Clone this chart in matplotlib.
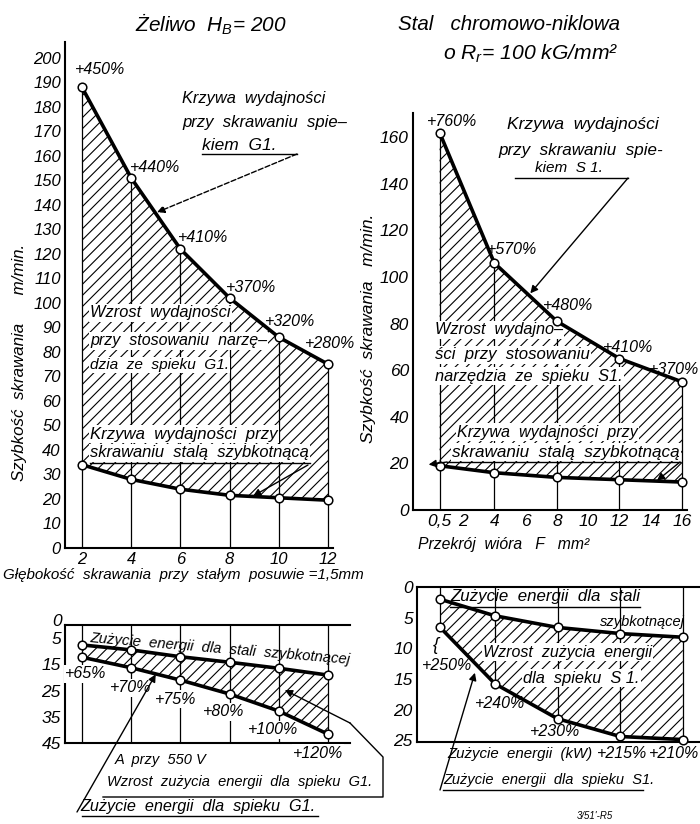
import matplotlib
matplotlib.use('Agg')
import matplotlib.pyplot as plt
from matplotlib.lines import Line2D

W, H = 700, 824  # output size in pixels (dpi 100)

# --- Żeliwo HB=200: cutting speed vs depth of cut (m/min)
depth = [2, 4, 6, 8, 10, 12]
v_g1 = [188, 151, 122, 102, 86, 75]
v_hss_cast = [34, 28, 24, 21.5, 20.5, 19.5]
gain_g1 = ['+450%', '+440%', '+410%', '+370%', '+320%', '+280%']

# --- Stal chromowo-niklowa: cutting speed vs chip section (m/min)
section = [0.5, 4, 8, 12, 16]
v_s1 = [162, 106, 81, 65, 55]
v_hss_steel = [19, 16, 14, 13, 12]
gain_s1 = ['+760%', '+570%', '+480%', '+410%', '+370%']

# --- energy, cast iron (A at 550 V)
e_hss_cast = [7.6, 9.5, 12.1, 14.2, 16.5, 19.1]
e_g1 = [12.3, 16.3, 21.0, 26.3, 32.8, 41.6]
e_gain_g1 = ['+65%', '+70%', '+75%', '+80%', '+100%', '+120%']

# --- energy, steel (kW)
e_hss_steel = [2.0, 4.7, 6.6, 7.6, 8.2]
e_s1 = [6.6, 15.8, 21.5, 24.4, 24.9]
e_gain_s1 = ['+250%', '+240%', '+230%', '+215%', '+210%']

yt_tl = list(range(0, 201, 10))
xt_tl = [2, 4, 6, 8, 10, 12]
yt_tr = list(range(0, 161, 20))
xt_tr = [0.5, 2, 4, 6, 8, 10, 12, 14, 16]
xt_tr_lab = ['0,5', '2', '4', '6', '8', '10', '12', '14', '16']
yt_bl = [5, 15, 25, 35, 45]
yt_br = [0, 5, 10, 15, 20, 25]

plt.rcParams['font.family'] = ['Liberation Sans', 'DejaVu Sans']
plt.rcParams['font.style'] = 'italic'
plt.rcParams['mathtext.fontset'] = 'custom'
plt.rcParams['mathtext.it'] = 'Liberation Sans:italic'
plt.rcParams['mathtext.rm'] = 'Liberation Sans:italic'
plt.rcParams['hatch.linewidth'] = 0.8
plt.rcParams['hatch.color'] = 'black'

fig = plt.figure(figsize=(W / 100, H / 100), dpi=100)
fig.patch.set_facecolor('white')
renderer = fig.canvas.get_renderer()


def P(x, y):
    # pixel (from top-left) -> figure fraction
    return x / W, 1 - y / H


def axes_px(left, top, right, bottom):
    return fig.add_axes([left / W, 1 - bottom / H, (right - left) / W, (bottom - top) / H])


def txt(x, y, s, width=None, size=11.5, ha='left', box=False, rot=0, ax=None, lo=10.5, hi=12.5):
    kw = {}
    if box:
        kw['bbox'] = dict(fc='white', ec='none', pad=0.8)
    host = ax if ax is not None else fig
    t = host.text(*P(x, y), s, ha=ha, va='center', fontsize=size, zorder=5,
                  transform=fig.transFigure, rotation_mode='anchor', clip_on=False, **kw)
    if width:
        w = t.get_window_extent(renderer).width
        t.set_fontsize(min(hi, max(lo, size * width / w)))
    t.set_rotation(rot)
    return t


def pline(pts, lw=1.0, ls='-'):
    xs = [p[0] / W for p in pts]
    ys = [1 - p[1] / H for p in pts]
    fig.add_artist(Line2D(xs, ys, color='k', lw=lw, ls=ls, transform=fig.transFigure, zorder=6))


def arrow(ax, target, start, ls='-'):
    ax.annotate('', xy=target, xycoords='data', xytext=P(*start), textcoords='figure fraction',
                arrowprops=dict(arrowstyle='-|>', color='k', lw=1.0, ls=ls, mutation_scale=11,
                                shrinkA=0, shrinkB=0), zorder=7)


def style(ax, spines, lsize=12):
    for k, s in ax.spines.items():
        s.set_visible(k in spines)
        s.set_linewidth(1.5)
    ax.tick_params(length=0, labelsize=lsize, pad=3)
    ax.set_facecolor('none')


def curve(ax, x, y):
    ax.plot(x, y, color='k', lw=2.6, marker='o', ms=6.2, mfc='white', mec='k', mew=1.1, zorder=6,
            clip_on=False)


# ---------------- top left
ax1 = axes_px(65, 42, 333, 548)
style(ax1, ['left', 'bottom'])
ax1.set_xlim(1.31, 12.2)
ax1.set_ylim(0, 206.5)
ax1.set_yticks(yt_tl)
ax1.set_xticks(xt_tl)
ax1.fill_between(depth, v_hss_cast, v_g1, facecolor='none', edgecolor='k', hatch='///', lw=0)
ax1.vlines(depth, 0, v_g1, color='k', lw=0.9)
curve(ax1, depth, v_g1)
curve(ax1, depth, v_hss_cast)

# ---------------- top right
ax2 = axes_px(413, 113, 687, 510)
style(ax2, ['left', 'bottom'], 12.5)
ax2.set_xlim(-1.2, 16.32)
ax2.set_ylim(0, 170.4)
ax2.set_yticks(yt_tr)
ax2.set_xticks(xt_tr, xt_tr_lab)
ax2.fill_between(section, v_hss_steel, v_s1, facecolor='none', edgecolor='k', hatch='///', lw=0)
ax2.vlines(section, 0, v_s1, color='k', lw=0.9)
curve(ax2, section, v_s1)
curve(ax2, section, v_hss_steel)

# ---------------- bottom left
ax3 = axes_px(65, 625, 350, 743)
style(ax3, ['left', 'bottom', 'top'], 12.5)
ax3.set_xlim(1.31, 12.9)
ax3.set_ylim(45, 0)
ax3.set_yticks(yt_bl)
ax3.set_xticks([])
ax3.fill_between(depth, e_hss_cast, e_g1, facecolor='none', edgecolor='k', hatch='///', lw=0)
ax3.vlines(depth, 0, 45, color='k', lw=0.9)
curve(ax3, depth, e_hss_cast)
curve(ax3, depth, e_g1)

# ---------------- bottom right
ax4 = axes_px(417, 587, 700, 742)
style(ax4, ['left', 'bottom', 'top'], 12.5)
ax4.set_xlim(-0.98, 17.1)
ax4.set_ylim(25.3, 0)
ax4.set_yticks(yt_br)
ax4.set_xticks([])
ax4.fill_between(section, e_hss_steel, e_s1, facecolor='none', edgecolor='k', hatch='///', lw=0)
ax4.vlines(section, 0, e_s1, color='k', lw=0.9)
curve(ax4, section, e_hss_steel)
curve(ax4, section, e_s1)

# ---------------- titles and axis labels
txt(211, 24, 'Żeliwo  $H_B$= 200', width=152, ha='center', hi=20)
txt(509, 24, 'Stal   chromowo-niklowa', width=222, ha='center', hi=20)
txt(531, 54, 'o $R_r$= 100 kG/mm²', width=177, ha='center', hi=20)
txt(20, 362, 'Szybkość  skrawania      m/min.', width=237, ha='center', rot=90, hi=16)
txt(369, 328, 'Szybkość  skrawania   m/min.', width=230, ha='center', rot=90, hi=16)
txt(3, 575, 'Głębokość  skrawania  przy  stałym  posuwie =1,5mm', width=362)
txt(418, 545, 'Przekrój  wióra   F   mm²', width=172)
txt(57, 622, '0', size=12.5, ha='center')

# ---------------- top left annotations
for s, (x, y) in zip(gain_g1, [(75, 70), (130, 167), (178, 238), (226, 287), (265, 322), (305, 343)]):
    txt(x, y, s)
txt(182, 98, 'Krzywa  wydajności', width=143)
txt(182, 123, 'przy  skrawaniu  spie–', width=165)
txt(202, 146, 'kiem  G1.', width=80)
pline([(202, 154), (297, 154)])
arrow(ax1, (5.05, 137), (297, 154), ls='--')
txt(90, 313, 'Wzrost  wydajności', width=140, box=True, ax=ax1)
txt(90, 341, 'przy  stosowaniu  narzę–', width=177, box=True, ax=ax1)
txt(90, 365, 'dzia  ze  spieku  G1.', width=140, box=True, ax=ax1)
txt(90, 434, 'Krzywa  wydajności  przy', width=187, box=True, ax=ax1)
txt(90, 453, 'skrawaniu  stalą  szybkotnącą', width=220, box=True, ax=ax1)
pline([(90, 463), (310, 463)])
arrow(ax1, (8.95, 21.2), (308, 465))

# ---------------- top right annotations
for s, (x, y) in zip(gain_s1[:4], [(427, 121), (487, 249), (543, 305), (603, 347)]):
    txt(x, y, s)
txt(699, 369, gain_s1[4], ha='right')
txt(507, 125, 'Krzywa  wydajności', width=156)
txt(498, 150, 'przy  skrawaniu  spie-', width=165)
txt(535, 168, 'kiem  S 1.', width=68)
pline([(515, 178), (628, 178)])
arrow(ax2, (6.3, 93), (628, 178))
txt(435, 330, 'Wzrost  wydajno–', width=128, box=True, ax=ax2)
txt(435, 355, 'ści  przy  stosowaniu', width=155, box=True, ax=ax2)
txt(435, 376, 'narzędzia  ze  spieku  S1.', width=188, box=True, ax=ax2)
txt(457, 432, 'Krzywa  wydajności  przy', width=180, box=True, ax=ax2)
txt(452, 452, 'skrawaniu  stalą  szybkotnącą', width=228, box=True, ax=ax2)
pline([(447, 462), (680, 462)])
arrow(ax2, (-0.2, 19.5), (447, 462))
arrow(ax2, (14.4, 12.6), (680, 462))

# ---------------- bottom left annotations
txt(220, 649, 'Zużycie  energii  dla  stali  szybkotnącej', width=262, ha='center', rot=-4.8)
for s, (x, y) in zip(e_gain_g1, [(65, 674), (110, 688), (155, 699), (203, 712), (248, 730), (293, 753)]):
    txt(x, y, s, box=True, ax=ax3)
txt(115, 760, 'A  przy  550 V', width=85)
txt(107, 782, 'Wzrost  zużycia  energii  dla  spieku  G1.', width=238)
pline([(103, 797), (383, 797), (383, 757), (350, 723)])
arrow(ax3, (10.25, 24.8), (350, 723))
txt(80, 806, 'Zużycie  energii  dla  spieku  G1.', width=237)
pline([(82, 816), (318, 816)])
arrow(ax3, (5.0, 18.8), (77, 812))

# ---------------- bottom right annotations
txt(450, 597, 'Zużycie  energii  dla  stali', width=190)
pline([(450, 607), (640, 607)])
txt(600, 622, 'szybkotnącej', width=83)
txt(483, 652, 'Wzrost  zużycia  energii', width=170, box=True, ax=ax4)
txt(523, 678, 'dla  spieku  S 1.', width=117, box=True, ax=ax4)
txt(436, 645, '{', size=13, ha='center')
for s, (x, y) in zip(e_gain_s1[:4], [(422, 666), (475, 703), (530, 732), (597, 754)]):
    txt(x, y, s)
txt(699, 754, e_gain_s1[4], ha='right')
txt(447, 754, 'Zużycie  energii  (kW)', width=145)
txt(443, 780, 'Zużycie  energii  dla  spieku  S1.', width=200)
pline([(443, 790), (643, 790)])
arrow(ax4, (2.72, 14.0), (440, 790))
txt(577, 816, "3/51'-R5", width=36, lo=6)

fig.savefig('out.png', dpi=100, facecolor='white')
